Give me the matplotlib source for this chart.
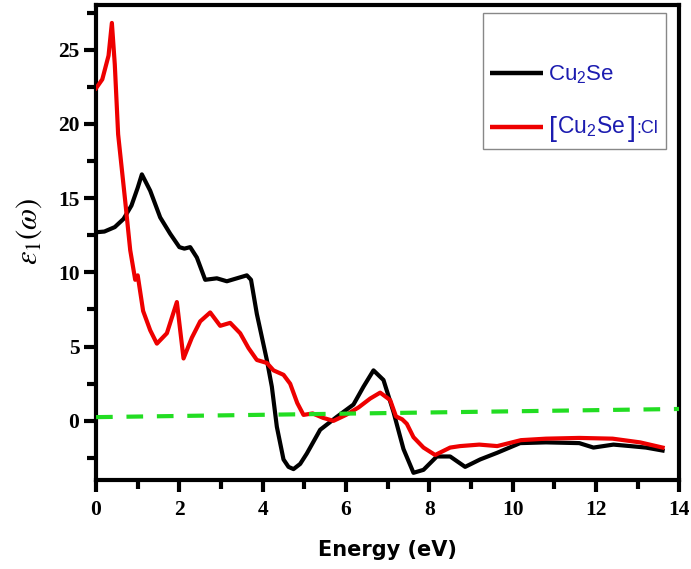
import matplotlib
matplotlib.use("Agg")
import matplotlib.pyplot as plt
from matplotlib.patches import Rectangle

# ---- data ----
cu2se_x = [0.0, 0.2, 0.45, 0.66, 0.85, 1.0, 1.1, 1.3, 1.54, 1.78, 2.0, 2.12, 2.26, 2.42, 2.62, 2.9, 3.14,
           3.38, 3.62, 3.72, 3.86, 4.1, 4.22, 4.34, 4.5, 4.62, 4.74, 4.9, 5.06, 5.38, 5.78, 6.18,
           6.42, 6.66, 6.9, 7.14, 7.38, 7.62, 7.86, 8.18, 8.5, 8.86, 9.22, 9.63, 10.18, 10.8,
           11.6, 11.94, 12.42, 12.82, 13.2, 13.6]
cu2se_y = [12.7, 12.75, 13.05, 13.6, 14.5, 15.7, 16.6, 15.5, 13.7, 12.6, 11.7, 11.6, 11.7, 11.0, 9.5, 9.6, 9.4,
           9.6, 9.8, 9.5, 7.2, 4.1, 2.3, -0.4, -2.6, -3.1, -3.25, -2.9, -2.2, -0.6, 0.27, 1.1,
           2.3, 3.4, 2.75, 0.6, -1.9, -3.5, -3.3, -2.4, -2.4, -3.1, -2.6, -2.15, -1.5, -1.45,
           -1.5, -1.8, -1.6, -1.7, -1.8, -2.0]

cu2secl_x = [0.0, 0.15, 0.3, 0.38, 0.45, 0.53, 0.70, 0.82, 0.94, 1.0, 1.13, 1.3, 1.46, 1.7, 1.94, 2.1,
             2.3, 2.5, 2.74, 2.98, 3.22, 3.46, 3.66, 3.86, 4.1, 4.26, 4.5, 4.66, 4.83, 4.98, 5.2,
             5.45, 5.7, 6.0, 6.3, 6.58, 6.82, 7.06, 7.2, 7.35, 7.46, 7.62, 7.86, 8.14, 8.5, 8.74,
             9.2, 9.63, 10.2, 10.8, 11.6, 12.4, 13.06, 13.6]
cu2secl_y = [22.4, 23.0, 24.6, 26.8, 24.0, 19.3, 14.8, 11.5, 9.5, 9.8, 7.4, 6.1, 5.2, 5.9, 8.0, 4.2,
             5.6, 6.7, 7.3, 6.4, 6.6, 5.9, 4.9, 4.1, 3.9, 3.4, 3.1, 2.5, 1.2, 0.4, 0.5,
             0.2, 0.0, 0.4, 0.9, 1.5, 1.9, 1.4, 0.3, 0.1, -0.2, -1.1, -1.8, -2.3, -1.8, -1.7,
             -1.6, -1.7, -1.3, -1.2, -1.15, -1.2, -1.45, -1.8]

zero_x = [0.0, 14.0]
zero_y = [0.25, 0.8]

label_a = r"Cu$_\mathregular{2}$Se"
label_b_core = r"Cu$_\mathregular{2}$Se"
label_b_suffix = ":Cl"
xticks = [0, 2, 4, 6, 8, 10, 12, 14]
yticks = [0, 5, 10, 15, 20, 25]

BLACK = "black"
RED = "#ee0000"
GREEN = "#22dd22"
BLUE = "#1c1cb0"

plt.rcParams["mathtext.fontset"] = "custom"
plt.rcParams["mathtext.rm"] = "Liberation Sans"
plt.rcParams["mathtext.it"] = "Liberation Sans:italic"
plt.rcParams["mathtext.bf"] = "Liberation Sans:bold"

fig = plt.figure(figsize=(6.91, 5.69), dpi=100)
ax = fig.add_axes([0.139, 0.156, 0.844, 0.835])

ax.plot(cu2se_x, cu2se_y, color=BLACK, lw=3.0, solid_joinstyle="round", zorder=3)
ax.plot(cu2secl_x, cu2secl_y, color=RED, lw=3.0, solid_joinstyle="round", zorder=4)
ax.plot(zero_x, zero_y, color=GREEN, lw=3.0, dashes=(4, 3.3), zorder=5)

ax.set_xlim(0, 14)
ax.set_ylim(-4, 28)
ax.set_xticks(xticks)
ax.set_xticks(range(1, 14, 2), minor=True)
ax.set_yticks(yticks)
ax.set_yticks([-2.5, 2.5, 7.5, 12.5, 17.5, 22.5, 27.5], minor=True)

for s in ax.spines.values():
    s.set_linewidth(3.0)
ax.tick_params(which="major", direction="out", length=8.5, width=3)
ax.tick_params(which="minor", direction="out", length=6.5, width=3)
ax.tick_params(axis="x", which="major", pad=6)
ax.tick_params(axis="y", which="major", pad=3.5)
for lab in ax.get_xticklabels() + ax.get_yticklabels():
    lab.set_fontfamily("Liberation Serif")
    lab.set_fontweight("bold")
    lab.set_fontsize(15.5)

ax.set_xlabel("Energy (eV)", fontfamily="DejaVu Sans", fontweight="bold", fontsize=15)
ax.xaxis.set_label_coords(0.5, -0.16)
ax.xaxis.label.set_va("baseline")
yl = ax.set_ylabel(r"$\varepsilon_{\mathit{1}}(\omega)$", fontsize=22)
yl.set_math_fontfamily("stix")
ax.yaxis.set_label_coords(-0.115, 0.524)
ax.yaxis.label.set_va("center")

# ---- legend, drawn by hand to reproduce the tall brackets ----
T = ax.transAxes
ax.add_patch(Rectangle((0.664, 0.697), 0.314, 0.286, transform=T, facecolor="white",
                       edgecolor="#888888", lw=1.0, zorder=10))
ax.plot([0.676, 0.767], [0.857, 0.857], transform=T, color=BLACK, lw=3.2, zorder=11,
        solid_capstyle="butt")
ax.plot([0.676, 0.767], [0.744, 0.744], transform=T, color=RED, lw=3.2, zorder=11,
        solid_capstyle="butt")
ax.text(0.775, 0.842, label_a, transform=T, color=BLUE, fontsize=16,
        fontfamily="Liberation Sans", va="baseline", ha="left", zorder=12)
ax.text(0.776, 0.724, "[", transform=T, color=BLUE, fontsize=20.5,
        fontfamily="Liberation Sans", va="baseline", ha="left", zorder=12)
ax.text(0.790, 0.731, label_b_core, transform=T, color=BLUE, fontsize=16.5,
        fontfamily="Liberation Sans", va="baseline", ha="left", zorder=12)
ax.text(0.911, 0.724, "]", transform=T, color=BLUE, fontsize=20.5,
        fontfamily="Liberation Sans", va="baseline", ha="left", zorder=12)
ax.text(0.927, 0.731, label_b_suffix, transform=T, color=BLUE, fontsize=13,
        fontfamily="Liberation Sans", va="baseline", ha="left", zorder=12)

fig.savefig("out.png", dpi=100)
